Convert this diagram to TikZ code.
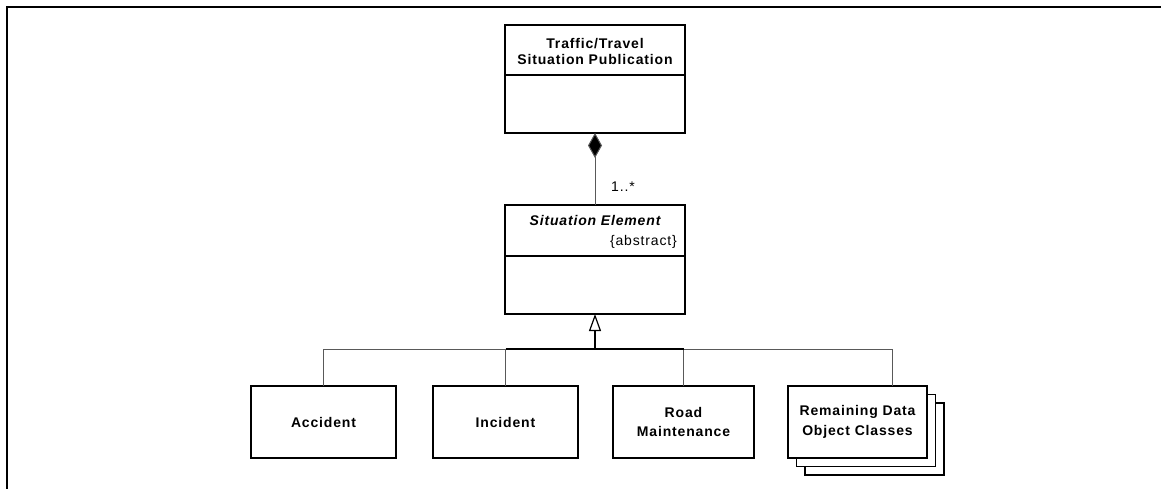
\documentclass[tikz,border=0pt]{standalone}
\usepackage{fontspec}
\setmainfont{Liberation Sans}[LetterSpace=6]
\usetikzlibrary{arrows.meta}
\tikzset{
  box/.style={draw, line width=1.3pt, fill=white, inner sep=0pt, outer sep=0pt},
  lbl/.style={font=\fontsize{14}{19.5}\selectfont\bfseries, align=center, inner sep=0pt},
  small/.style={font=\fontsize{14}{16}\selectfont, inner sep=0pt},
  conn/.style={draw=black!65, line width=1pt},
  main/.style={draw=black, line width=1.6pt},
  frame/.style={line width=2.2pt}
}
\begin{document}
\begin{tikzpicture}[x=1pt,y=-1pt]
\useasboundingbox (0,0) rectangle (1161,489);
\coordinate (fa) at (7,489);
\coordinate (fb) at (7,7);
\coordinate (fc) at (1161,7);
\draw[frame] (fa) -- (fb) -- (fc);
% top class
\node[box, minimum width=180pt, minimum height=108pt] (pub) at (595,79) {};
\draw[line width=1.3pt] ([yshift=-50pt]pub.north west) -- ([yshift=-50pt]pub.north east);
\node[lbl, font=\fontsize{14}{16}\selectfont\bfseries, anchor=base] (pubt) at (595,65) {Traffic/Travel\\Situation Publication};
% situation element
\node[box, minimum width=180pt, minimum height=109pt] (se) at (595,259.5) {};
\draw[line width=1.3pt] ([yshift=-51pt]se.north west) -- ([yshift=-51pt]se.north east);
\node[lbl, font=\fontsize{14}{16}\selectfont\bfseries\itshape, anchor=base] (set) at (595,225) {Situation Element};
\node[small, anchor=base east] (abs) at (677,245) {\{abstract\}};
% composition
\draw[conn, {Diamond[length=25pt,width=14pt,fill=black]}-] (pub.south) -- (se.north);
\node[small, anchor=base west] (mult) at (611,192) {1..*};
% subclasses
\node[box, minimum width=145pt, minimum height=72pt] (acc) at (323.5,422) {};
\node[lbl] at (acc.center) {Accident};
\node[box, minimum width=145pt, minimum height=72pt] (inc) at (505.5,422) {};
\node[lbl] at (inc.center) {Incident};
\node[box, minimum width=141pt, minimum height=72pt] (road) at (683.5,422) {};
\node[lbl] at (road.center) {Road\\Maintenance};
\node[box, minimum width=139pt, minimum height=72pt] (rem3) at (874.5,439) {};
\node[box, minimum width=139pt, minimum height=72pt] (rem2) at (866,430.5) {};
\node[box, minimum width=139pt, minimum height=72pt] (rem1) at (857.5,422) {};
\node[lbl] at (rem1.center) {Remaining Data\\Object Classes};
% generalization tree
\coordinate (j) at (595,349);
\coordinate (remtop) at ([xshift=34.5pt]rem1.north);
\draw[conn] (acc.north) |- (inc.north |- j);
\draw[conn] (remtop) |- (road.north |- j);
\draw[conn] (inc.north) -- (inc.north |- j);
\draw[conn] (road.north) -- (road.north |- j);
\draw[main] (inc.north |- j) -- (road.north |- j);
\draw[main, -{Triangle[open, length=17pt, width=12pt, line width=1.2pt, fill=white]}] (j) -- (se.south);
\end{tikzpicture}
\end{document}
